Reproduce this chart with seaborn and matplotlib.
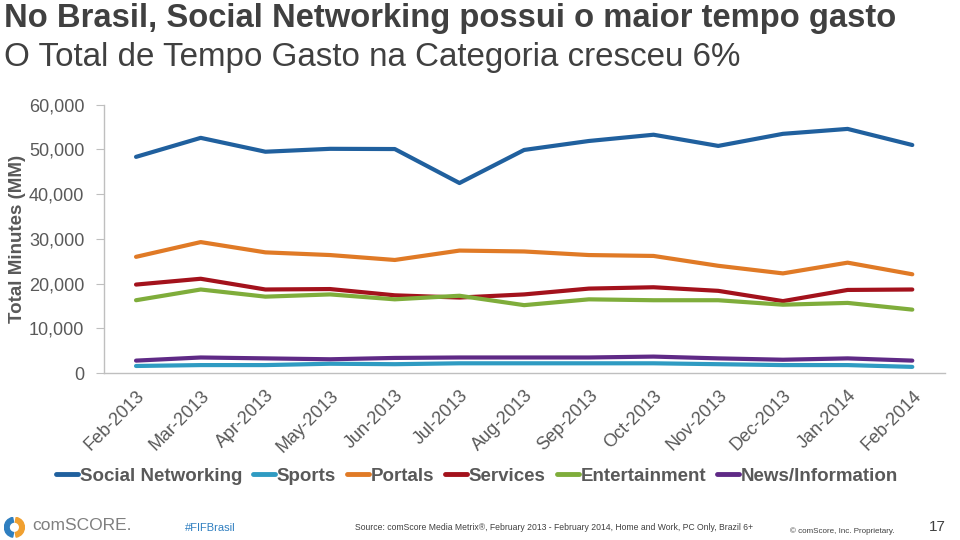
import numpy as np
import pandas as pd
import matplotlib.pyplot as plt
import seaborn as sns
from matplotlib.patches import Wedge

months = ["Feb-2013", "Mar-2013", "Apr-2013", "May-2013", "Jun-2013", "Jul-2013", "Aug-2013",
          "Sep-2013", "Oct-2013", "Nov-2013", "Dec-2013", "Jan-2014", "Feb-2014"]

social = [48350, 52600, 49500, 50150, 50100, 42500, 49900, 51900, 53300, 50800, 53500, 54600, 51000]
sports = [1600, 1800, 1800, 2100, 2000, 2200, 2200, 2200, 2200, 2000, 1800, 1800, 1400]
portals = [26000, 29300, 27000, 26400, 25300, 27400, 27200, 26400, 26200, 24000, 22300, 24700, 22100]
services = [19800, 21100, 18700, 18800, 17400, 16900, 17600, 18900, 19200, 18400, 16100, 18600, 18700]
entertainment = [16300, 18700, 17100, 17600, 16500, 17300, 15200, 16500, 16300, 16300, 15300, 15700, 14200]
news = [2800, 3500, 3300, 3100, 3400, 3500, 3500, 3500, 3700, 3300, 3000, 3300, 2800]

series = ["Social Networking", "Sports", "Portals", "Services", "Entertainment", "News/Information"]
colors = ["#20609e", "#2f9bc2", "#e07a26", "#a3121c", "#7fad3b", "#5f2a86"]
values = [social, sports, portals, services, entertainment, news]

rows = []
for name, vals in zip(series, values):
    for i, v in enumerate(vals):
        rows.append({"pos": i, "month": months[i], "series": name, "minutes": v})
df = pd.DataFrame(rows)

sns.set_style("white")
plt.rcParams["font.family"] = ["Liberation Sans", "DejaVu Sans"]

fig = plt.figure(figsize=(9.6, 5.4), dpi=100)
ax = fig.add_axes([0.108, 0.309, 0.876, 0.497])

sns.lineplot(data=df, x="pos", y="minutes", hue="series", hue_order=series,
             palette=colors, linewidth=3, ax=ax, legend=False)

gray = "#595959"
ax.set_xlim(-0.5, len(months) - 0.5)
ax.set_ylim(0, 60000)
ax.set_yticks(range(0, 60001, 10000))
ax.set_yticklabels([f"{v:,}" for v in range(0, 60001, 10000)], fontsize=13, color=gray)
ax.set_xticks(range(len(months)))
ax.set_xticklabels(months, rotation=45, ha="right", rotation_mode="anchor",
                   fontsize=13, color=gray)
ax.set_xticks(np.arange(-0.5, len(months), 1), minor=True)
ax.tick_params(axis="x", which="major", length=0, pad=10)
ax.tick_params(axis="x", which="minor", length=5, color="#bfbfbf", direction="out")
ax.tick_params(axis="y", length=6, color="#bfbfbf", direction="out", left=True, pad=8)
ax.set_xlabel("")
ax.set_ylabel("Total Minutes (MM)", fontsize=13.5, fontweight="bold", color=gray, labelpad=2)
for s in ["top", "right"]:
    ax.spines[s].set_visible(False)
for s in ["left", "bottom"]:
    ax.spines[s].set_color("#bfbfbf")
    ax.spines[s].set_linewidth(1)

# legend
handles = [plt.Line2D([], [], color=c, linewidth=3.5) for c in colors]
leg = fig.legend(handles, series, loc="center", bbox_to_anchor=(0.497, 0.118), ncol=6,
                 frameon=False, handlelength=1.15, handletextpad=0.1,
                 columnspacing=0.6, prop={"weight": "bold", "size": 13.5})
for t in leg.get_texts():
    t.set_color(gray)

# titles
fig.text(0.004, 0.994, "No Brasil, Social Networking possui o maior tempo gasto",
         fontsize=23.6, fontweight="bold", color="#404040", va="top", ha="left")
fig.text(0.004, 0.923, "O Total de Tempo Gasto na Categoria cresceu 6%",
         fontsize=23.9, color="#404040", va="top", ha="left")

# footer logo
lax = fig.add_axes([0.004, 0.004, 0.022, 0.039])
lax.set_aspect("equal")
lax.set_xlim(-1, 1)
lax.set_ylim(-1, 1)
lax.axis("off")
lax.add_patch(Wedge((0, 0), 0.95, 100, 260, width=0.45, color="#2f7fc0"))
lax.add_patch(Wedge((0, 0), 0.95, 280, 80, width=0.45, color="#f0a030"))
fig.text(0.034, 0.026, "comSCORE.", fontsize=12.5, color="#7f7f7f", va="center", ha="left")
fig.text(0.193, 0.022, "#FIFBrasil", fontsize=8, color="#2f7fc0", va="center", ha="left")
fig.text(0.37, 0.024, "Source: comScore Media Metrix®, February 2013 - February 2014, Home and Work, PC Only, Brazil 6+",
         fontsize=6.2, color="#404040", va="center", ha="left")
fig.text(0.823, 0.017, "© comScore, Inc. Proprietary.", fontsize=5.8, color="#404040",
         va="center", ha="left")
fig.text(0.985, 0.024, "17", fontsize=11, color="#404040", va="center", ha="right")

fig.savefig("out.png", dpi=100)
